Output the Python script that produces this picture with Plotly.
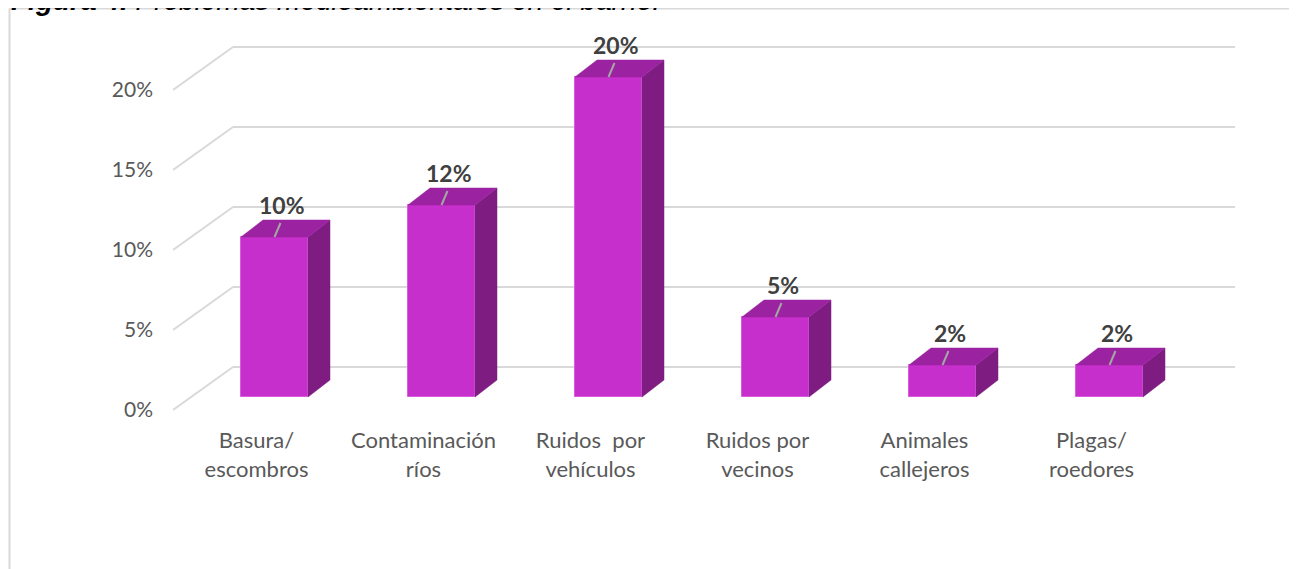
import plotly.graph_objects as go

# ---- data ----
categories = ["Basura/<br>escombros", "Contaminación<br>ríos", "Ruidos  por<br>vehículos",
              "Ruidos por<br>vecinos", "Animales<br>callejeros", "Plagas/<br>roedores"]
values = [10, 12, 20, 5, 2, 2]
y_ticks = [0, 5, 10, 15, 20]
y_tick_labels = ["0%", "5%", "10%", "15%", "20%"]
title_bold = "Figura 4."
title_rest = " Problemas medioambientales en el barrio."

# ---- geometry (pixels in the target picture; page has an 8px body margin) ----
W, H = 1297, 569
OFF = 8
def lx(p):
    return p - OFF
def ly(p):
    return p - OFF

L, R, T, B = lx(173), lx(1235), ly(30), ly(420)
Y0PX = ly(410)          # pixel of 0 on the front plane
PXX, PXY = 167.0, 16.0  # pixels per category / per percent

def ddx(px):
    return px / PXX

def ddy(py):
    return -py / PXY

x_range = [-0.5, -0.5 + (R - L) / PXX]
y_range = [(Y0PX - B) / PXY, (Y0PX - T) / PXY]

def paper_x(px):
    return (px - L) / (R - L)

def paper_y(py):
    return (B - py) / (B - T)

# depth offsets
WALL = (ddx(60), ddy(-43))
BARF = (ddx(18), ddy(-13))
SIDE = (ddx(22), ddy(-17))
BAR_W = 67 / PXX

FRONT = "#C72FCC"
TOP = "#9B22A0"
SIDEC = "#7E1C82"
GRID = "#D9D9D9"
FONT = "Lato"

fig = go.Figure()

shapes = []
# back wall gridlines and floor diagonals
for v in y_ticks:
    shapes.append(dict(type="line", xref="x", yref="y", layer="below",
                       x0=x_range[0], y0=v, x1=x_range[0] + WALL[0], y1=v + WALL[1],
                       line=dict(color=GRID, width=2)))
    shapes.append(dict(type="line", xref="x", yref="y", layer="below",
                       x0=x_range[0] + WALL[0], y0=v + WALL[1], x1=x_range[1], y1=v + WALL[1],
                       line=dict(color=GRID, width=2)))

xs = [i + BARF[0] for i in range(len(values))]

# front faces
fig.add_trace(go.Bar(x=xs, y=values, base=BARF[1], width=BAR_W,
                     marker=dict(color=FRONT, line=dict(color="#D85CDC", width=1)),
                     hoverinfo="skip", showlegend=False))

# side and top faces
sx, sy = [], []
tx, ty = [], []
for xc, v in zip(xs, values):
    xl, xr = xc - BAR_W / 2, xc + BAR_W / 2
    b = BARF[1]
    top = b + v
    sx += [xr, xr + SIDE[0], xr + SIDE[0], xr, xr, None]
    sy += [b, b + SIDE[1], top + SIDE[1], top, b, None]
    tx += [xl, xr, xr + SIDE[0], xl + SIDE[0], xl, None]
    ty += [top, top, top + SIDE[1], top + SIDE[1], top, None]

fig.add_trace(go.Scatter(x=sx, y=sy, mode="lines", fill="toself", fillcolor=SIDEC,
                         line=dict(color=SIDEC, width=0.5), hoverinfo="skip", showlegend=False))
fig.add_trace(go.Scatter(x=tx, y=ty, mode="lines", fill="toself", fillcolor=TOP,
                         line=dict(color=TOP, width=0.5), hoverinfo="skip", showlegend=False))

# data labels with small leader lines
annotations = []
for xc, v in zip(xs, values):
    top = BARF[1] + v
    shapes.append(dict(type="line", xref="x", yref="y", layer="above",
                       x0=xc, y0=top, x1=xc + ddx(6), y1=top + ddy(-14),
                       line=dict(color="#A6A6A6", width=2)))
    annotations.append(dict(x=xc + ddx(7), y=top + ddy(-32), xref="x", yref="y",
                            text=f"<b>{v}%</b>", showarrow=False,
                            font=dict(family=FONT, size=23, color="#404040"),
                            xanchor="center", yanchor="middle"))

# chart area border (top and left)
shapes.append(dict(type="line", xref="paper", yref="paper", layer="below",
                   x0=paper_x(lx(9.5)), y0=paper_y(ly(8.5)), x1=paper_x(W + 5), y1=paper_y(ly(8.5)),
                   line=dict(color=GRID, width=2)))
shapes.append(dict(type="line", xref="paper", yref="paper", layer="below",
                   x0=paper_x(lx(9.5)), y0=paper_y(ly(8.5)), x1=paper_x(lx(9.5)), y1=paper_y(H + 5),
                   line=dict(color=GRID, width=2)))

# figure caption, clipped at the very top as in the source
annotations.append(dict(x=paper_x(lx(9)), y=paper_y(ly(18)), xref="paper", yref="paper",
                        text=f"<b><i>{title_bold}</i></b><i>{title_rest}</i>",
                        showarrow=False, xanchor="left", yanchor="bottom",
                        font=dict(family="Liberation Sans", size=28, color="#000000")))

fig.update_layout(
    width=W, height=H,
    margin=dict(l=L, r=W - R, t=T, b=H - B, pad=0),
    paper_bgcolor="white", plot_bgcolor="white",
    shapes=shapes, annotations=annotations,
    bargap=0, showlegend=False,
    xaxis=dict(range=x_range, tickmode="array", tickvals=list(range(len(categories))),
               ticktext=categories, showgrid=False, zeroline=False, showline=False,
               ticks="", ticklabelstandoff=5,
               tickfont=dict(family=FONT, size=22, color="#595959")),
    yaxis=dict(range=y_range, tickmode="array", tickvals=y_ticks, ticktext=y_tick_labels,
               showgrid=False, zeroline=False, showline=False, ticks="",
               ticklabelstandoff=19,
               tickfont=dict(family=FONT, size=21, color="#595959")),
)

fig.write_html("out.html")
